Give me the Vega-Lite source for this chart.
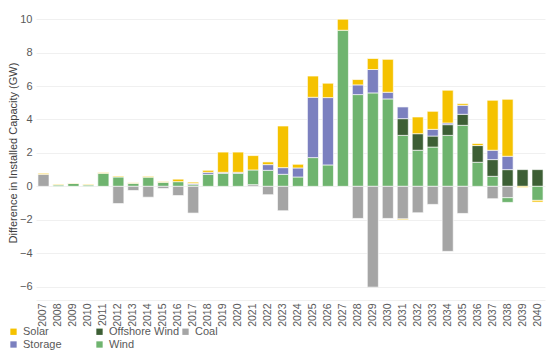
{
  "$schema": "https://vega.github.io/schema/vega-lite/v6.json",
  "width": 509,
  "height": 295,
  "autosize": {"type": "none"},
  "padding": {"left": 36, "top": 5, "right": 6, "bottom": 63},
  "background": "white",
  "config": {
    "font": "Liberation Sans",
    "view": {"stroke": null}
  },
  "data": {
    "values": [
      {"year": "2007", "type": "Coal", "value": 0.72},
      {"year": "2007", "type": "Solar", "value": 0.06},
      {"year": "2008", "type": "Wind", "value": 0.08},
      {"year": "2008", "type": "Solar", "value": 0.04},
      {"year": "2009", "type": "Wind", "value": 0.17},
      {"year": "2009", "type": "Solar", "value": 0.03},
      {"year": "2010", "type": "Wind", "value": 0.08},
      {"year": "2010", "type": "Solar", "value": 0.04},
      {"year": "2011", "type": "Wind", "value": 0.78},
      {"year": "2011", "type": "Solar", "value": 0.05},
      {"year": "2012", "type": "Wind", "value": 0.56},
      {"year": "2012", "type": "Solar", "value": 0.05},
      {"year": "2012", "type": "Coal", "value": -1.03},
      {"year": "2013", "type": "Wind", "value": 0.18},
      {"year": "2013", "type": "Solar", "value": 0.04},
      {"year": "2013", "type": "Coal", "value": -0.25},
      {"year": "2014", "type": "Wind", "value": 0.55},
      {"year": "2014", "type": "Solar", "value": 0.05},
      {"year": "2014", "type": "Coal", "value": -0.65},
      {"year": "2015", "type": "Wind", "value": 0.24},
      {"year": "2015", "type": "Solar", "value": 0.05},
      {"year": "2015", "type": "Coal", "value": -0.13},
      {"year": "2016", "type": "Wind", "value": 0.28},
      {"year": "2016", "type": "Solar", "value": 0.15},
      {"year": "2016", "type": "Coal", "value": -0.55},
      {"year": "2017", "type": "Wind", "value": 0.1},
      {"year": "2017", "type": "Storage", "value": 0.07},
      {"year": "2017", "type": "Solar", "value": 0.08},
      {"year": "2017", "type": "Coal", "value": -1.6},
      {"year": "2018", "type": "Wind", "value": 0.72},
      {"year": "2018", "type": "Storage", "value": 0.12},
      {"year": "2018", "type": "Solar", "value": 0.12},
      {"year": "2019", "type": "Wind", "value": 0.78},
      {"year": "2019", "type": "Storage", "value": 0.06},
      {"year": "2019", "type": "Solar", "value": 1.21},
      {"year": "2020", "type": "Wind", "value": 0.78},
      {"year": "2020", "type": "Storage", "value": 0.06},
      {"year": "2020", "type": "Solar", "value": 1.21},
      {"year": "2021", "type": "Coal", "value": 0.1},
      {"year": "2021", "type": "Wind", "value": 0.88},
      {"year": "2021", "type": "Solar", "value": 0.86},
      {"year": "2022", "type": "Wind", "value": 0.96},
      {"year": "2022", "type": "Storage", "value": 0.34},
      {"year": "2022", "type": "Solar", "value": 0.16},
      {"year": "2022", "type": "Coal", "value": -0.5},
      {"year": "2023", "type": "Wind", "value": 0.72},
      {"year": "2023", "type": "Storage", "value": 0.4},
      {"year": "2023", "type": "Solar", "value": 2.49},
      {"year": "2023", "type": "Coal", "value": -1.46},
      {"year": "2024", "type": "Wind", "value": 0.56},
      {"year": "2024", "type": "Storage", "value": 0.54},
      {"year": "2024", "type": "Solar", "value": 0.22},
      {"year": "2025", "type": "Wind", "value": 1.72},
      {"year": "2025", "type": "Storage", "value": 3.61},
      {"year": "2025", "type": "Solar", "value": 1.27},
      {"year": "2026", "type": "Wind", "value": 1.28},
      {"year": "2026", "type": "Storage", "value": 4.03},
      {"year": "2026", "type": "Solar", "value": 0.86},
      {"year": "2027", "type": "Wind", "value": 9.34},
      {"year": "2027", "type": "Solar", "value": 0.66},
      {"year": "2028", "type": "Wind", "value": 5.49},
      {"year": "2028", "type": "Storage", "value": 0.58},
      {"year": "2028", "type": "Solar", "value": 0.32},
      {"year": "2028", "type": "Coal", "value": -1.92},
      {"year": "2029", "type": "Wind", "value": 5.59},
      {"year": "2029", "type": "Storage", "value": 1.4},
      {"year": "2029", "type": "Solar", "value": 0.66},
      {"year": "2029", "type": "Coal", "value": -6.03},
      {"year": "2030", "type": "Wind", "value": 5.23},
      {"year": "2030", "type": "Storage", "value": 0.4},
      {"year": "2030", "type": "Solar", "value": 1.97},
      {"year": "2030", "type": "Coal", "value": -1.92},
      {"year": "2031", "type": "Wind", "value": 3.05},
      {"year": "2031", "type": "Offshore Wind", "value": 1.0},
      {"year": "2031", "type": "Storage", "value": 0.7},
      {"year": "2031", "type": "Coal", "value": -1.95},
      {"year": "2031", "type": "Solar", "value": -0.05},
      {"year": "2032", "type": "Wind", "value": 2.16},
      {"year": "2032", "type": "Offshore Wind", "value": 0.99},
      {"year": "2032", "type": "Solar", "value": 1.0},
      {"year": "2032", "type": "Coal", "value": -1.58},
      {"year": "2033", "type": "Wind", "value": 2.35},
      {"year": "2033", "type": "Offshore Wind", "value": 0.66},
      {"year": "2033", "type": "Storage", "value": 0.4},
      {"year": "2033", "type": "Solar", "value": 1.08},
      {"year": "2033", "type": "Coal", "value": -1.08},
      {"year": "2034", "type": "Wind", "value": 3.05},
      {"year": "2034", "type": "Offshore Wind", "value": 0.64},
      {"year": "2034", "type": "Storage", "value": 0.1},
      {"year": "2034", "type": "Solar", "value": 1.96},
      {"year": "2034", "type": "Coal", "value": -3.89},
      {"year": "2035", "type": "Wind", "value": 3.65},
      {"year": "2035", "type": "Offshore Wind", "value": 0.66},
      {"year": "2035", "type": "Storage", "value": 0.54},
      {"year": "2035", "type": "Solar", "value": 0.1},
      {"year": "2035", "type": "Coal", "value": -1.62},
      {"year": "2036", "type": "Wind", "value": 1.44},
      {"year": "2036", "type": "Offshore Wind", "value": 1.0},
      {"year": "2036", "type": "Solar", "value": 0.12},
      {"year": "2037", "type": "Wind", "value": 0.6},
      {"year": "2037", "type": "Offshore Wind", "value": 1.0},
      {"year": "2037", "type": "Storage", "value": 0.56},
      {"year": "2037", "type": "Solar", "value": 2.99},
      {"year": "2037", "type": "Coal", "value": -0.74},
      {"year": "2038", "type": "Offshore Wind", "value": 1.0},
      {"year": "2038", "type": "Storage", "value": 0.8},
      {"year": "2038", "type": "Solar", "value": 3.41},
      {"year": "2038", "type": "Coal", "value": -0.68},
      {"year": "2038", "type": "Wind", "value": -0.28},
      {"year": "2039", "type": "Offshore Wind", "value": 1.0},
      {"year": "2039", "type": "Solar", "value": -0.07},
      {"year": "2040", "type": "Offshore Wind", "value": 1.0},
      {"year": "2040", "type": "Wind", "value": -0.84},
      {"year": "2040", "type": "Solar", "value": -0.1}
    ]
  },
  "transform": [
    {"calculate": "indexof(['Coal','Wind','Offshore Wind','Storage','Solar'], datum.type)", "as": "stackOrder"}
  ],
  "mark": {"type": "bar", "stroke": "white", "strokeWidth": 0.8, "strokeOpacity": 0.8},
  "encoding": {
    "x": {
      "field": "year",
      "type": "ordinal",
      "title": null,
      "scale": {"paddingInner": 0.26, "paddingOuter": 0.13},
      "axis": {
        "labelAngle": -90,
        "labelFontSize": 10.5,
        "labelColor": "#595959",
        "labelPadding": 3,
        "ticks": false,
        "domain": true,
        "domainColor": "#F0F0F0",
        "grid": false
      }
    },
    "y": {
      "field": "value",
      "type": "quantitative",
      "stack": "zero",
      "title": "Difference in Installed Capacity (GW)",
      "scale": {"domain": [-6.8, 10.85], "nice": false, "zero": false},
      "axis": {
        "values": [-6, -4, -2, 0, 2, 4, 6, 8, 10],
        "labelFontSize": 11,
        "labelColor": "#595959",
        "labelPadding": 4,
        "ticks": false,
        "domain": false,
        "gridColor": "#F0F0F0",
        "gridWidth": 1,
        "titleFontSize": 11,
        "titleFontWeight": "normal",
        "titleColor": "#404040",
        "titlePadding": 1
      }
    },
    "color": {
      "field": "type",
      "type": "nominal",
      "scale": {
        "domain": ["Solar", "Storage", "Offshore Wind", "Wind", "Coal"],
        "range": ["#F5C200", "#7B80BF", "#3D5F35", "#6FB46F", "#A5A5A5"]
      },
      "legend": {
        "title": null,
        "orient": "none",
        "legendX": -28,
        "legendY": 321,
        "columns": 3,
        "gridAlign": "all",
        "columnPadding": 0,
        "rowPadding": 1,
        "symbolType": "square",
        "symbolSize": 40,
        "symbolStrokeWidth": 0,
        "labelFontSize": 11,
        "labelColor": "#595959",
        "labelOffset": 4
      }
    },
    "order": {"field": "stackOrder", "type": "quantitative"}
  }
}
